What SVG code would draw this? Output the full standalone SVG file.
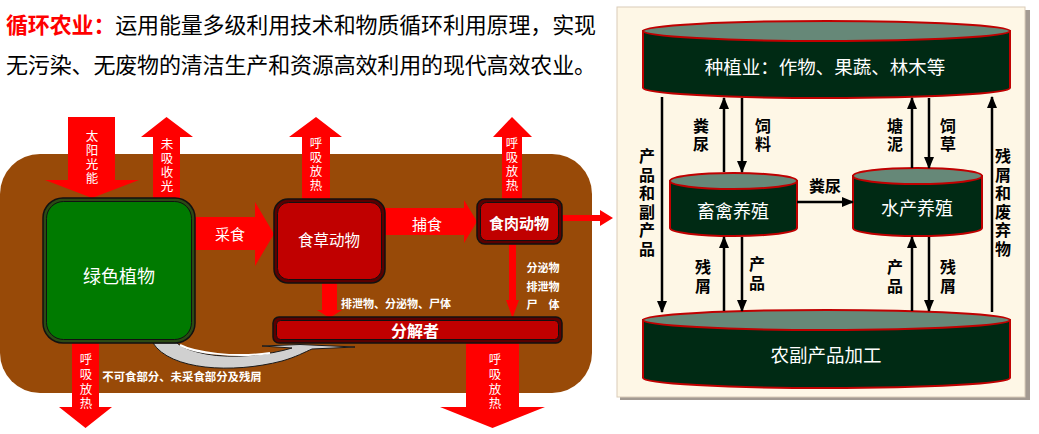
<svg xmlns="http://www.w3.org/2000/svg" width="1039" height="434" viewBox="0 0 1039 434">
<defs>
<style>
text{font-family:"Noto Sans CJK SC","Liberation Sans",sans-serif;text-anchor:middle;dominant-baseline:central}
.w{fill:#fff}
.wb{fill:#fff;font-weight:bold}
.s{font-size:12.5px}
.k{fill:#000;font-weight:bold;font-size:16px}
.cyl{fill:#002a14;stroke:#c00000;stroke-width:2}
.cyltop{fill:#668878;stroke:#c00000;stroke-width:2}
.ln{stroke:#000;stroke-width:2.5;fill:none;marker-end:url(#ah)}
</style>
<marker id="ah" viewBox="0 0 12 10" refX="11" refY="5" markerWidth="12" markerHeight="10" markerUnits="userSpaceOnUse" orient="auto">
<path d="M0,0 L12,5 L0,10 Z" fill="#000"/>
</marker>
</defs>
<rect width="1039" height="434" fill="#fff"/>

<g id="title">
<text x="6" y="23" style="text-anchor:start;font-size:22px" textLength="590" lengthAdjust="spacing"><tspan fill="#ff0000" font-weight="bold">循环农业：</tspan><tspan fill="#000">运用能量多级利用技术和物质循环利用原理，实现</tspan></text>
<text x="6" y="63" style="text-anchor:start;font-size:22px" fill="#000" textLength="590" lengthAdjust="spacing">无污染、无废物的清洁生产和资源高效利用的现代高效农业。</text>
</g>

<g id="left-panel">
<rect id="ecosystem-bg" x="0" y="154" width="592" height="239" rx="40" fill="#984a08"/>

<g id="connectors-left" fill="#ff0000">
<polygon id="sun" points="68,117 115,117 115,180 139,180 92,198 45,180 68,180"/>
<polygon id="unabsorbed" points="153,199 153,137 141,137 166.5,117 193,137 180,137 180,199"/>
<polygon id="resp-herb" points="302,199 302,137 289,137 316,117 342,137 330,137 330,199"/>
<polygon id="resp-carn" points="502,199 502,137 493,137 512,117 532,137 522,137 522,199"/>
<polygon id="feed" points="195,217 255,217 255,202 274,234 255,266 255,250 195,250"/>
<polygon id="prey" points="385,208 464,208 464,200 477,221.5 464,243 464,235 385,235"/>
<polygon id="out" points="562,215 600,215 600,210 613,218 600,226 600,221 562,221"/>
<polygon id="herb-dec" points="322,283 337,283 337,310 342,310 329.5,318 317,310 322,310"/>
<polygon id="carn-dec" points="509,244 516,244 516,300 519,300 512.5,318 506,300 509,300"/>
<polygon id="resp-plant" points="72,343 99,343 99,407 112,407 85.5,428 59,407 72,407"/>
<polygon id="resp-dec" points="466,343 519,343 519,407 545,407 492.5,428 440,407 466,407"/>
<path id="residue" d="M153,343 C170,370 232,374 282,361 C296,357 305,352 312,349 L355,347 L300,344.5 L262,346 L292,348 C270,355 232,359 206,354 C191,351 181,347 177,343 Z" fill="#d0d0d0" stroke="#1a1a1a" stroke-width="1"/>
<path d="M180,345 C195,353 235,358 270,353" fill="none" stroke="#fff" stroke-width="2"/>
</g>

<g id="connector-labels-left">
<text class="w s"><tspan x="92" y="135">太</tspan><tspan x="92" y="149">阳</tspan><tspan x="92" y="163">光</tspan><tspan x="92" y="177">能</tspan></text>
<text class="w s"><tspan x="167" y="143">未</tspan><tspan x="167" y="157">吸</tspan><tspan x="167" y="171">收</tspan><tspan x="167" y="185">光</tspan></text>
<text class="w s"><tspan x="316" y="142">呼</tspan><tspan x="316" y="156">吸</tspan><tspan x="316" y="170">放</tspan><tspan x="316" y="184">热</tspan></text>
<text class="w s"><tspan x="512" y="142">呼</tspan><tspan x="512" y="156">吸</tspan><tspan x="512" y="170">放</tspan><tspan x="512" y="184">热</tspan></text>
<text class="w s"><tspan x="86" y="358">呼</tspan><tspan x="86" y="373">吸</tspan><tspan x="86" y="388">放</tspan><tspan x="86" y="402">热</tspan></text>
<text class="w s"><tspan x="495" y="358">呼</tspan><tspan x="495" y="373">吸</tspan><tspan x="495" y="388">放</tspan><tspan x="495" y="402">热</tspan></text>
<text class="w" style="font-size:15px" x="230" y="233">采食</text>
<text class="w" style="font-size:15px" x="427" y="223">捕食</text>
<text class="wb" style="font-size:11px" x="396" y="303">排泄物、分泌物、尸体</text>
<text class="wb" style="font-size:11px" x="543" y="267">分泌物</text>
<text class="wb" style="font-size:11px" x="543" y="286">排泄物</text>
<text class="wb" style="font-size:11px" x="543" y="304">尸　体</text>
<text class="wb" style="font-size:11.4px" x="182" y="376">不可食部分、未采食部分及残屑</text>
</g>

<g id="node-green-plants">
<rect x="43" y="198" width="152" height="145" rx="20" fill="#2c4a14" stroke="#111" stroke-width="1.5"/>
<rect x="46.5" y="201.5" width="145" height="138" rx="17" fill="#007a00" stroke="#111" stroke-width="1"/>
<text class="w" style="font-size:18px" x="119" y="275">绿色植物</text>
</g>
<g id="node-herbivore">
<rect x="274" y="199" width="111" height="84" rx="14" fill="#5a0000" stroke="#111" stroke-width="1.5"/>
<rect x="277.5" y="202.5" width="104" height="77" rx="11" fill="#c00000" stroke="#111" stroke-width="1"/>
<text class="w" style="font-size:15.5px" x="329" y="239">食草动物</text>
</g>
<g id="node-carnivore">
<rect x="477" y="199" width="85" height="45" rx="8" fill="#5a0000" stroke="#111" stroke-width="1.5"/>
<rect x="480.5" y="202.5" width="78" height="38" rx="6" fill="#c00000" stroke="#111" stroke-width="1"/>
<text class="wb" style="font-size:15px" x="519" y="222">食肉动物</text>
</g>
<g id="node-decomposer">
<rect x="273" y="317" width="289" height="26" rx="6" fill="#5a0000" stroke="#111" stroke-width="1.5"/>
<rect x="276.5" y="320.5" width="282" height="19" rx="4" fill="#c00000" stroke="#111" stroke-width="1"/>
<text class="wb" style="font-size:16px" x="415" y="330">分解者</text>
</g>
</g>

<g id="right-panel">
<rect x="620" y="10" width="410" height="390" fill="#a39a92"/>
<rect x="617" y="7" width="408" height="390" fill="#fef7e6" stroke="#dacbb8" stroke-width="1"/>

<g id="node-planting">
<path class="cyl" d="M643,31 V88 A183.5,10 0 0 0 1010,88 V31 Z"/>
<ellipse class="cyltop" cx="826.5" cy="31" rx="183.5" ry="10"/>
<text class="w" style="font-size:18.5px" x="825" y="66">种植业：作物、果蔬、林木等</text>
</g>
<g id="node-livestock">
<path class="cyl" d="M670,181 V228 A63.5,8 0 0 0 797,228 V181 Z"/>
<ellipse class="cyltop" cx="733.5" cy="181" rx="63.5" ry="8"/>
<text class="w" style="font-size:18px" x="733" y="210">畜禽养殖</text>
</g>
<g id="node-aquaculture">
<path class="cyl" d="M853,176 V228 A64.5,8 0 0 0 982,228 V176 Z"/>
<ellipse class="cyltop" cx="917.5" cy="176" rx="64.5" ry="8"/>
<text class="w" style="font-size:18px" x="917" y="207">水产养殖</text>
</g>
<g id="node-processing">
<path class="cyl" d="M643,320 V378 A183.5,10 0 0 0 1010,378 V320 Z"/>
<ellipse class="cyltop" cx="826.5" cy="320" rx="183.5" ry="10"/>
<text class="w" style="font-size:18.5px" x="826" y="354">农副产品加工</text>
</g>

<g id="connectors-right">
<line class="ln" x1="724" y1="172" x2="724" y2="98"/>
<line class="ln" x1="742" y1="98" x2="742" y2="172"/>
<line class="ln" x1="912" y1="168" x2="912" y2="98"/>
<line class="ln" x1="929" y1="98" x2="929" y2="168"/>
<line class="ln" x1="797" y1="202" x2="853" y2="202"/>
<line class="ln" x1="662" y1="97" x2="662" y2="312"/>
<line class="ln" x1="992" y1="312" x2="992" y2="97"/>
<line class="ln" x1="724" y1="311" x2="724" y2="237"/>
<line class="ln" x1="742" y1="237" x2="742" y2="311"/>
<line class="ln" x1="912" y1="311" x2="912" y2="237"/>
<line class="ln" x1="929" y1="237" x2="929" y2="311"/>
</g>
<g id="connector-labels-right">
<text class="k"><tspan x="701" y="125">粪</tspan><tspan x="701" y="143">尿</tspan></text>
<text class="k"><tspan x="763" y="125">饲</tspan><tspan x="763" y="143">料</tspan></text>
<text class="k"><tspan x="895" y="125">塘</tspan><tspan x="895" y="143">泥</tspan></text>
<text class="k"><tspan x="948" y="125">饲</tspan><tspan x="948" y="143">草</tspan></text>
<text class="k" x="825" y="185">粪尿</text>
<text class="k"><tspan x="647" y="155">产</tspan><tspan x="647" y="173.6">品</tspan><tspan x="647" y="192.2">和</tspan><tspan x="647" y="210.8">副</tspan><tspan x="647" y="229.4">产</tspan><tspan x="647" y="248">品</tspan></text>
<text class="k"><tspan x="1003" y="155">残</tspan><tspan x="1003" y="173.6">屑</tspan><tspan x="1003" y="192.2">和</tspan><tspan x="1003" y="210.8">废</tspan><tspan x="1003" y="229.4">弃</tspan><tspan x="1003" y="248">物</tspan></text>
<text class="k"><tspan x="703" y="266">残</tspan><tspan x="703" y="285">屑</tspan></text>
<text class="k"><tspan x="757" y="263">产</tspan><tspan x="757" y="282">品</tspan></text>
<text class="k"><tspan x="895" y="266">产</tspan><tspan x="895" y="285">品</tspan></text>
<text class="k"><tspan x="948" y="266">残</tspan><tspan x="948" y="285">屑</tspan></text>
</g>
</g>
</svg>
